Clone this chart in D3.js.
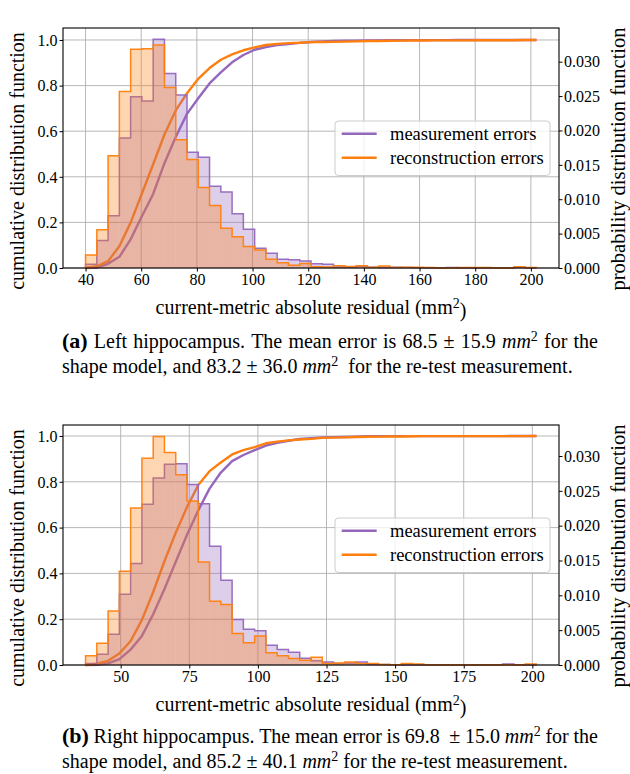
<!DOCTYPE html>
<html><head><meta charset="utf-8">
<script src="https://cdn.jsdelivr.net/npm/d3@7"></script>
<style>
body{margin:0;background:#fff;}
#wrap{position:relative;width:630px;height:774px;overflow:hidden;}
svg{position:absolute;left:0;top:0;}
.cap{position:absolute;left:62px;font-family:"Liberation Serif","Times New Roman",serif;font-size:20px;color:#000;line-height:25px;white-space:nowrap;}
.cap.j{width:536px;display:flex;justify-content:space-between;align-items:baseline;}
.cap b{font-size:22px;line-height:20px;}
.cap sup{font-size:0.7em;line-height:0;vertical-align:0.5em;}
</style></head>
<body><div id="wrap"><svg id="chart" width="630" height="774"></svg>
<div class="cap j" style="top:329px"><span><b>(a)</b></span><span>Left</span><span>hippocampus.</span><span>The</span><span>mean</span><span>error</span><span>is</span><span>68.5</span><span>±</span><span>15.9</span><span><i>mm</i><sup>2</sup></span><span>for</span><span>the</span></div>
<div class="cap" style="top:354px">shape model, and 83.2 ± 36.0 <i>mm</i><sup>2</sup>&nbsp; for the re-test measurement.</div>
<div class="cap j" style="top:724px"><span><b>(b)</b></span><span>Right</span><span>hippocampus.</span><span>The</span><span>mean</span><span>error</span><span>is</span><span style="padding-right:5px">69.8</span><span>±</span><span>15.0</span><span><i>mm</i><sup>2</sup></span><span>for</span><span>the</span></div>
<div class="cap" style="top:749px">shape model, and 85.2 ± 40.1 <i>mm</i><sup>2</sup> for the re-test measurement.</div>
</div>
<script>
// ---------- DATA ----------
const seriesNames = ["measurement errors", "reconstruction errors"];

// (a) Left hippocampus: 40 equal-width bins
const edgesTop = [40.00,44.05,48.10,52.15,56.20,60.25,64.30,68.35,72.40,76.45,80.50,84.55,88.60,92.65,96.70,100.75,104.80,108.85,112.90,116.95,121.00,125.05,129.10,133.15,137.20,141.25,145.30,149.35,153.40,157.45,161.50,165.55,169.60,173.65,177.70,181.75,185.80,189.85,193.90,197.95,202.00];
const pdfMeasTop = [0.00053,0.00399,0.00758,0.01892,0.02491,0.02428,0.03326,0.02830,0.02514,0.01683,
  0.01610,0.01187,0.01104,0.00788,0.00565,0.00286,0.00213,0.00126,0.00120,0.00100,
  0.00060,0.00053,0.00013,0.00010,0.00027,0.00010,0.00007,0.00010,0.00007,0.00003,
  0,0,0.00007,0,0,0,0,0,0.00007,0];
const pdfReconTop = [0.00190,0.00555,0.01633,0.02568,0.03180,0.03190,0.03243,0.02624,0.01866,0.01577,
  0.01171,0.00908,0.00579,0.00456,0.00313,0.00263,0.00126,0.00076,0.00040,0.00067,
  0.00017,0.00013,0.00033,0.00023,0.00033,0.00010,0.00030,0.00007,0.00010,0.00010,
  0.00007,0,0,0.00007,0.00007,0.00007,0,0,0.00017,0.00007];
const cdfMeasTop = [0,0.0022,0.0183,0.0490,0.1257,0.2266,0.3249,0.4597,0.5743,0.6761,
  0.7443,0.8095,0.8576,0.9023,0.9343,0.9572,0.9687,0.9774,0.9825,0.9873,
  0.9914,0.9938,0.9960,0.9965,0.9969,0.9980,0.9984,0.9987,0.9991,0.9993,
  0.9995,0.9995,0.9995,0.9997,0.9997,0.9997,0.9997,0.9997,0.9997,1.0,1.0];
const cdfReconTop = [0,0.0076,0.0300,0.0957,0.1990,0.3269,0.4552,0.5856,0.6912,0.7663,
  0.8297,0.8768,0.9133,0.9366,0.9549,0.9675,0.9781,0.9831,0.9862,0.9878,
  0.9905,0.9912,0.9917,0.9930,0.9940,0.9953,0.9957,0.9969,0.9972,0.9976,
  0.9980,0.9983,0.9983,0.9983,0.9985,0.9988,0.9991,0.9991,0.9991,0.9997,1.0];

// (b) Right hippocampus
const edgesBottom = [37.20,41.31,45.42,49.52,53.63,57.74,61.85,65.95,70.06,74.17,78.28,82.38,86.49,90.60,94.71,98.81,102.92,107.03,111.14,115.24,119.35,123.46,127.57,131.67,135.78,139.89,144.00,148.10,152.21,156.32,160.43,164.53,168.64,172.75,176.86,180.96,185.07,189.18,193.29,197.39,201.50];
const pdfMeasBottom = [0.00023,0.00154,0.00443,0.01017,0.01456,0.02309,0.02683,0.02880,0.02890,0.02591,
  0.02316,0.01706,0.01217,0.00653,0.00512,0.00492,0.00285,0.00223,0.00184,0.00098,
  0.00062,0.00043,0.00020,0.00030,0.00043,0.00007,0.00007,0.00003,0,0,
  0,0,0,0,0,0,0,0.00013,0,0];
const pdfReconBottom = [0.00134,0.00312,0.00774,0.01345,0.02253,0.02968,0.03280,0.03050,0.02732,0.02355,
  0.01479,0.00915,0.00869,0.00453,0.00318,0.00417,0.00177,0.00134,0.00092,0.00069,
  0.00112,0.00020,0.00030,0.00043,0.00020,0.00023,0.00007,0.00003,0.00020,0.00016,
  0,0,0,0,0,0,0,0,0,0.00016];
const cdfMeasBottom = [0,0.0009,0.0073,0.0255,0.0672,0.1270,0.2218,0.3319,0.4502,0.5688,
  0.6752,0.7703,0.8403,0.8903,0.9170,0.9381,0.9583,0.9700,0.9791,0.9867,
  0.9907,0.9933,0.9950,0.9958,0.9970,0.9988,0.9991,0.9993,0.9995,0.9995,
  0.9995,0.9995,0.9995,0.9995,0.9995,0.9995,0.9995,0.9995,1.0,1.0,1.0];
const cdfReconBottom = [0,0.0055,0.0183,0.0499,0.1050,0.1972,0.3187,0.4529,0.5777,0.6895,
  0.7859,0.8465,0.8839,0.9195,0.9380,0.9510,0.9681,0.9753,0.9808,0.9846,
  0.9874,0.9919,0.9928,0.9940,0.9957,0.9965,0.9974,0.9977,0.9979,0.9987,
  0.9993,0.9993,0.9993,0.9993,0.9993,0.9993,0.9993,0.9993,0.9993,0.9993,1.0];

// tick labels
const xTicksTop = [40,60,80,100,120,140,160,180,200];
const xTicksBottom = [50,75,100,125,150,175,200];
const leftTicks = [0,0.2,0.4,0.6,0.8,1.0];
const rightTicks = [0,0.005,0.010,0.015,0.020,0.025,0.030];

// ---------- DRAW ----------
const COL = {meas:"#9467bd", recon:"#ff7f0e"};
const FONT = '"Liberation Serif","Times New Roman",serif';
const svg = d3.select("#chart");
const PL = 63, PW = 496, PH = 240;

function drawChart(top, cfg){
  const g = svg.append("g").attr("transform", `translate(${PL},${top})`);
  const e = cfg.edges, span = e[e.length-1]-e[0];
  const x = d3.scaleLinear().domain([e[0]-0.05*span, e[e.length-1]+0.05*span]).range([0,PW]);
  const yL = d3.scaleLinear().domain([0,cfg.leftMax]).range([PH,0]);
  const yR = d3.scaleLinear().domain([0,cfg.rightMax]).range([PH,0]);

  // grid (left-axis ticks + x ticks)
  const grid = g.append("g").attr("stroke","#b0b0b0").attr("stroke-width",0.9);
  grid.selectAll(".gx").data(cfg.xTicks).join("line")
    .attr("x1",d=>x(d)).attr("x2",d=>x(d)).attr("y1",0).attr("y2",PH);
  grid.selectAll(".gy").data(leftTicks).join("line")
    .attr("x1",0).attr("x2",PW).attr("y1",d=>yL(d)).attr("y2",d=>yL(d));

  // CDF lines (left axis)
  const cdfLine = d3.line().x((d,i)=>x(e[i])).y(d=>yL(d));
  [[cfg.cdfMeas,COL.meas],[cfg.cdfRecon,COL.recon]].forEach(([arr,c])=>{
    g.append("path").datum(arr).attr("d",cdfLine).attr("fill","none")
      .attr("stroke",c).attr("stroke-width",2.4).attr("stroke-linejoin","round");
  });

  // histograms (right axis, twin axes drawn on top)
  const stepLine = d3.line().x(d=>x(d[0])).y(d=>yR(d[1]));
  [[cfg.pdfMeas,COL.meas],[cfg.pdfRecon,COL.recon]].forEach(([arr,c])=>{
    const hg = g.append("g");
    hg.selectAll("rect").data(arr).join("rect")
      .attr("x",(d,i)=>x(e[i])).attr("width",(d,i)=>x(e[i+1])-x(e[i]))
      .attr("y",d=>yR(d)).attr("height",d=>PH-yR(d))
      .attr("fill",c).attr("fill-opacity",0.32);
    const pts = [[e[0],0]];
    arr.forEach((v,i)=>{pts.push([e[i],v]); pts.push([e[i+1],v]);});
    pts.push([e[e.length-1],0]);
    hg.append("path").datum(pts).attr("d",stepLine).attr("fill","none")
      .attr("stroke",c).attr("stroke-width",1.5).attr("stroke-opacity",0.95);
  });

  // axes
  const styleAxis = sel=>{
    sel.select(".domain").remove();
    sel.selectAll(".tick line").attr("stroke","#000").attr("stroke-width",1);
    sel.selectAll(".tick text").attr("font-family",FONT).attr("font-size",16).attr("fill","#000");
  };
  const ax = g.append("g").attr("transform",`translate(0,${PH})`)
    .call(d3.axisBottom(x).tickValues(cfg.xTicks).tickFormat(d3.format("d")).tickSize(3.5));
  styleAxis(ax); ax.selectAll(".tick text").attr("y",17).attr("dy",0);
  const al = g.append("g")
    .call(d3.axisLeft(yL).tickValues(leftTicks).tickFormat(d3.format(".1f")).tickSize(3.5));
  styleAxis(al); al.selectAll(".tick text").attr("x",-5.5).attr("dy","0.33em");
  const ar = g.append("g").attr("transform",`translate(${PW},0)`)
    .call(d3.axisRight(yR).tickValues(rightTicks).tickFormat(d3.format(".3f")).tickSize(3.5));
  styleAxis(ar); ar.selectAll(".tick text").attr("x",5).attr("dy","0.33em");

  // frame
  g.append("rect").attr("x",0).attr("y",0).attr("width",PW).attr("height",PH)
    .attr("fill","none").attr("stroke","#000").attr("stroke-width",1.1);

  // legend
  const lg = g.append("g").attr("transform",`translate(${335-PL},${93})`);
  lg.append("rect").attr("width",215).attr("height",54.5).attr("rx",3.5)
    .attr("fill","#fff").attr("fill-opacity",0.8).attr("stroke","#cccccc").attr("stroke-width",1);
  seriesNames.forEach((nm,i)=>{
    const yy = 12.7 + i*24;
    lg.append("line").attr("x1",6.7).attr("x2",41.7).attr("y1",yy).attr("y2",yy)
      .attr("stroke",i?COL.recon:COL.meas).attr("stroke-width",2.4);
    lg.append("text").attr("x",55).attr("y",yy+5.8).text(nm)
      .attr("font-family",FONT).attr("font-size",18.5).attr("fill","#000");
  });

  // axis labels
  const xl = g.append("text").attr("x",PW/2).attr("y",PH+46).attr("text-anchor","middle")
    .attr("font-family",FONT).attr("font-size",20).attr("fill","#000");
  xl.append("tspan").text("current-metric absolute residual (mm");
  xl.append("tspan").attr("dy","-0.42em").attr("font-size",14).text("2");
  xl.append("tspan").attr("dy","0.42em").text(")");
  g.append("text").attr("transform",`translate(${24-PL},${PH/2+13}) rotate(-90)`)
    .attr("text-anchor","middle").attr("font-family",FONT).attr("font-size",20).attr("fill","#000")
    .text("cumulative distribution function");
  g.append("text").attr("transform",`translate(${625-PL},${PH/2+11}) rotate(-90)`)
    .attr("text-anchor","middle").attr("font-family",FONT).attr("font-size",20.5).attr("fill","#000")
    .text("probability distribution function");
}

drawChart(28, {edges:edgesTop, pdfMeas:pdfMeasTop, pdfRecon:pdfReconTop,
  cdfMeas:cdfMeasTop, cdfRecon:cdfReconTop, xTicks:xTicksTop, leftMax:1.0526, rightMax:0.0349});
drawChart(425, {edges:edgesBottom, pdfMeas:pdfMeasBottom, pdfRecon:pdfReconBottom,
  cdfMeas:cdfMeasBottom, cdfRecon:cdfReconBottom, xTicks:xTicksBottom, leftMax:1.048, rightMax:0.03445});
</script>
</body></html>
